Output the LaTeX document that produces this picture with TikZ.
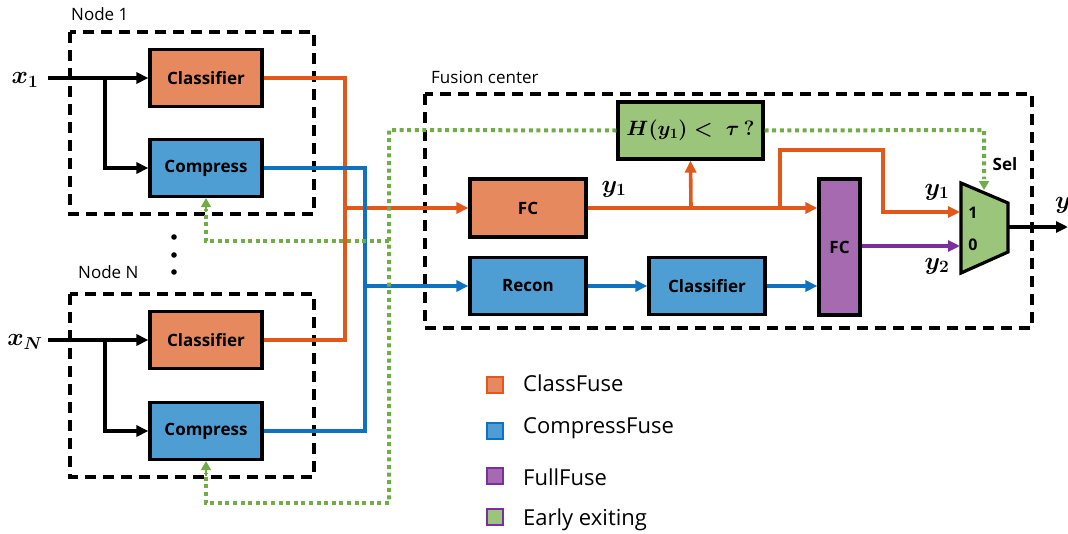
\documentclass[tikz,border=0pt]{standalone}
\usepackage{fontspec}
\setmainfont{Open Sans}
\usetikzlibrary{arrows.meta}

\definecolor{orgF}{HTML}{E6895F}
\definecolor{orgL}{HTML}{E2581B}
\definecolor{bluF}{HTML}{4E9ED3}
\definecolor{bluL}{HTML}{0F72C1}
\definecolor{purF}{HTML}{A56AB0}
\definecolor{purL}{HTML}{7B2F9E}
\definecolor{grnF}{HTML}{9CC57C}
\definecolor{grnL}{HTML}{70AD47}

\tikzset{
  blk/.style={draw=black, line width=3.2pt},
  block/.style={blk, inner sep=0pt, font=\fontsize{17}{20}\selectfont\bfseries},
  clsbox/.style={block, fill=orgF, minimum width=112pt, minimum height=57pt},
  cmpbox/.style={block, fill=bluF, minimum width=112pt, minimum height=57pt},
  group/.style={draw=black, line width=3.2pt, dash pattern=on 11pt off 7pt},
  grouplabel/.style={anchor=west, inner sep=0pt, font=\fontsize{17}{20}\selectfont},
  wire/.style={line width=3.6pt},
  tip/.style={-{Triangle[length=12pt,width=11pt]}},
  gtip/.style={-{Triangle[length=9pt,width=10pt]}},
  dotline/.style={draw=grnL, line width=4pt, dash pattern=on 4pt off 3.6pt},
  mlabel/.style={inner sep=0pt, font=\fontsize{26}{28}\selectfont\boldmath},
  legtext/.style={anchor=west, inner sep=0pt, font=\fontsize{22}{26}\selectfont},
  legbox/.style={minimum size=16pt, inner sep=0pt, line width=1.2pt},
}

\begin{document}
\begin{tikzpicture}[x=1pt,y=-1pt]
\clip (0,0) rectangle (1068,533);
\fill[white] (0,0) rectangle (1068,533);

% ---------- sensing nodes ----------
\draw[group] (70,32) rectangle (314,214);
\node[grouplabel] (lab1) at (71,14) {Node 1};
\draw[group] (70,294) rectangle (314,477);
\node[grouplabel] (labN) at (78,272) {Node N};

\node[clsbox] (cls1) at (206,78) {Classifier};
\node[cmpbox] (cmp1) at (206,168) {Compress};
\node[clsbox] (clsN) at (206,340) {Classifier};
\node[cmpbox] (cmpN) at (206,431) {Compress};

\foreach \yy in {237,255,272} \fill (174,\yy) circle (2.8pt);

% inputs
\node[mlabel] (x1) at (25,80) {$x_1$};
\node[mlabel] (xN) at (25,342) {$x_N$};
\coordinate (in1) at (48,78);
\coordinate (br1) at (105,78);
\coordinate (inN) at (48,340);
\coordinate (brN) at (105,340);
\draw[wire, tip] (in1) -- (cls1.west);
\draw[wire, tip] (br1) |- (cmp1.west);
\draw[wire, tip] (inN) -- (clsN.west);
\draw[wire, tip] (brN) |- (cmpN.west);

% ---------- fusion center ----------
\draw[group] (425,94) rectangle (1032,328);
\node[grouplabel] (labF) at (431,77) {Fusion center};

\node[block, fill=grnF, minimum width=145pt, minimum height=57pt, font=\fontsize{21}{23}\selectfont\boldmath] (hbox) at (690.5,130.5) {$H(y_1)<\;\tau\,?$};
\node[block, fill=orgF, minimum width=116pt, minimum height=58pt] (fc1) at (528,208) {FC};
\node[block, fill=bluF, minimum width=116pt, minimum height=57pt] (recon) at (528,286) {Recon};
\node[block, fill=bluF, minimum width=116pt, minimum height=57pt] (cls2) at (707,286) {Classifier};
\node[block, fill=purF, minimum width=41pt, minimum height=136pt] (fc2) at (839.5,247) {FC};

% selector
\draw[blk, fill=grnF, line join=miter] (961,183) -- (1008,203) -- (1008,252) -- (961,273) -- cycle;
\coordinate (sel) at (984,190);
\coordinate (mi1) at (960,212);
\coordinate (mi0) at (960,246);
\coordinate (mout) at (1008,227);
\coordinate (yend) at (1068,227);
\node[inner sep=0pt, font=\fontsize{16}{18}\selectfont\bfseries] (one) at (973,213) {1};
\node[inner sep=0pt, font=\fontsize{16}{18}\selectfont\bfseries] (zero) at (973,245) {0};
\node[inner sep=0pt, font=\fontsize{17}{19}\selectfont\bfseries] (sellab) at (1005,164) {Sel};
\node[mlabel] (y1a) at (614,189) {$y_1$};
\node[mlabel] (y1b) at (937,192) {$y_1$};
\node[mlabel] (y2) at (937,266) {$y_2$};
\node[mlabel, anchor=west] (yout) at (1055,205) {$y$};

% ---------- connectors ----------
% class scores
\coordinate (oj) at (345,208);
\draw[wire, orgL] (cls1.east) -| (oj) |- (clsN.east);
\draw[wire, orgL, tip] (oj) -- (fc1.west);
% compressed features
\coordinate (bj) at (365,286);
\draw[wire, bluL] (cmp1.east) -| (bj) |- (cmpN.east);
\draw[wire, bluL, tip] (bj) -- (recon.west);
% early-exit feedback
\coordinate (gtop) at (389,130);
\coordinate (gmid) at (389,241);
\coordinate (gbot) at (389,503);
\coordinate (gsel) at (984,130);
\draw[dotline] (hbox.west) -- (gtop) -- (gbot);
\draw[dotline] (gmid) -- (206,241) -- (206,209);
\draw[dotline] (gbot) -- (206,503) -- (206,473);
\draw[grnL, gtip, line width=2pt] (206,212) -- (cmp1.south);
\draw[grnL, gtip, line width=2pt] (206,476) -- (cmpN.south);
\draw[dotline] (hbox.east) -- (gsel) -- (984,179);
\draw[grnL, gtip, line width=2pt] (984,181) -- (sel);
% fusion paths
\coordinate (o1) at (691,208);
\coordinate (o2) at (780,208);
\draw[wire, orgL, tip] (fc1.east) -- (fc2.west |- fc1.east);
\draw[wire, orgL, tip] (o1) -- (hbox.south);
\draw[wire, orgL, tip] (o2) -- (780,150) -- (883,150) -- (883,212) -- (mi1);
\draw[wire, bluL, tip] (recon.east) -- (cls2.west);
\draw[wire, bluL, tip] (cls2.east) -- (fc2.west |- cls2.east);
\draw[wire, purL, tip] (fc2.east |- mi0) -- (mi0);
\draw[wire, tip] (mout) -- (yend);

% ---------- legend ----------
\node[legbox, fill=orgF, draw=orgL] (k1) at (495,385) {};
\node[legbox, fill=bluF, draw=bluL] (k2) at (495,431) {};
\node[legbox, fill=purF, draw=purL] (k3) at (495,476) {};
\node[legbox, fill=grnF, draw=purL] (k4) at (495,517) {};
\node[legtext] (t1) at (523,383) {ClassFuse};
\node[legtext] (t2) at (523,428) {CompressFuse};
\node[legtext] (t3) at (523,477) {FullFuse};
\node[legtext] (t4) at (523,520) {Early exiting};
\end{tikzpicture}
\end{document}
